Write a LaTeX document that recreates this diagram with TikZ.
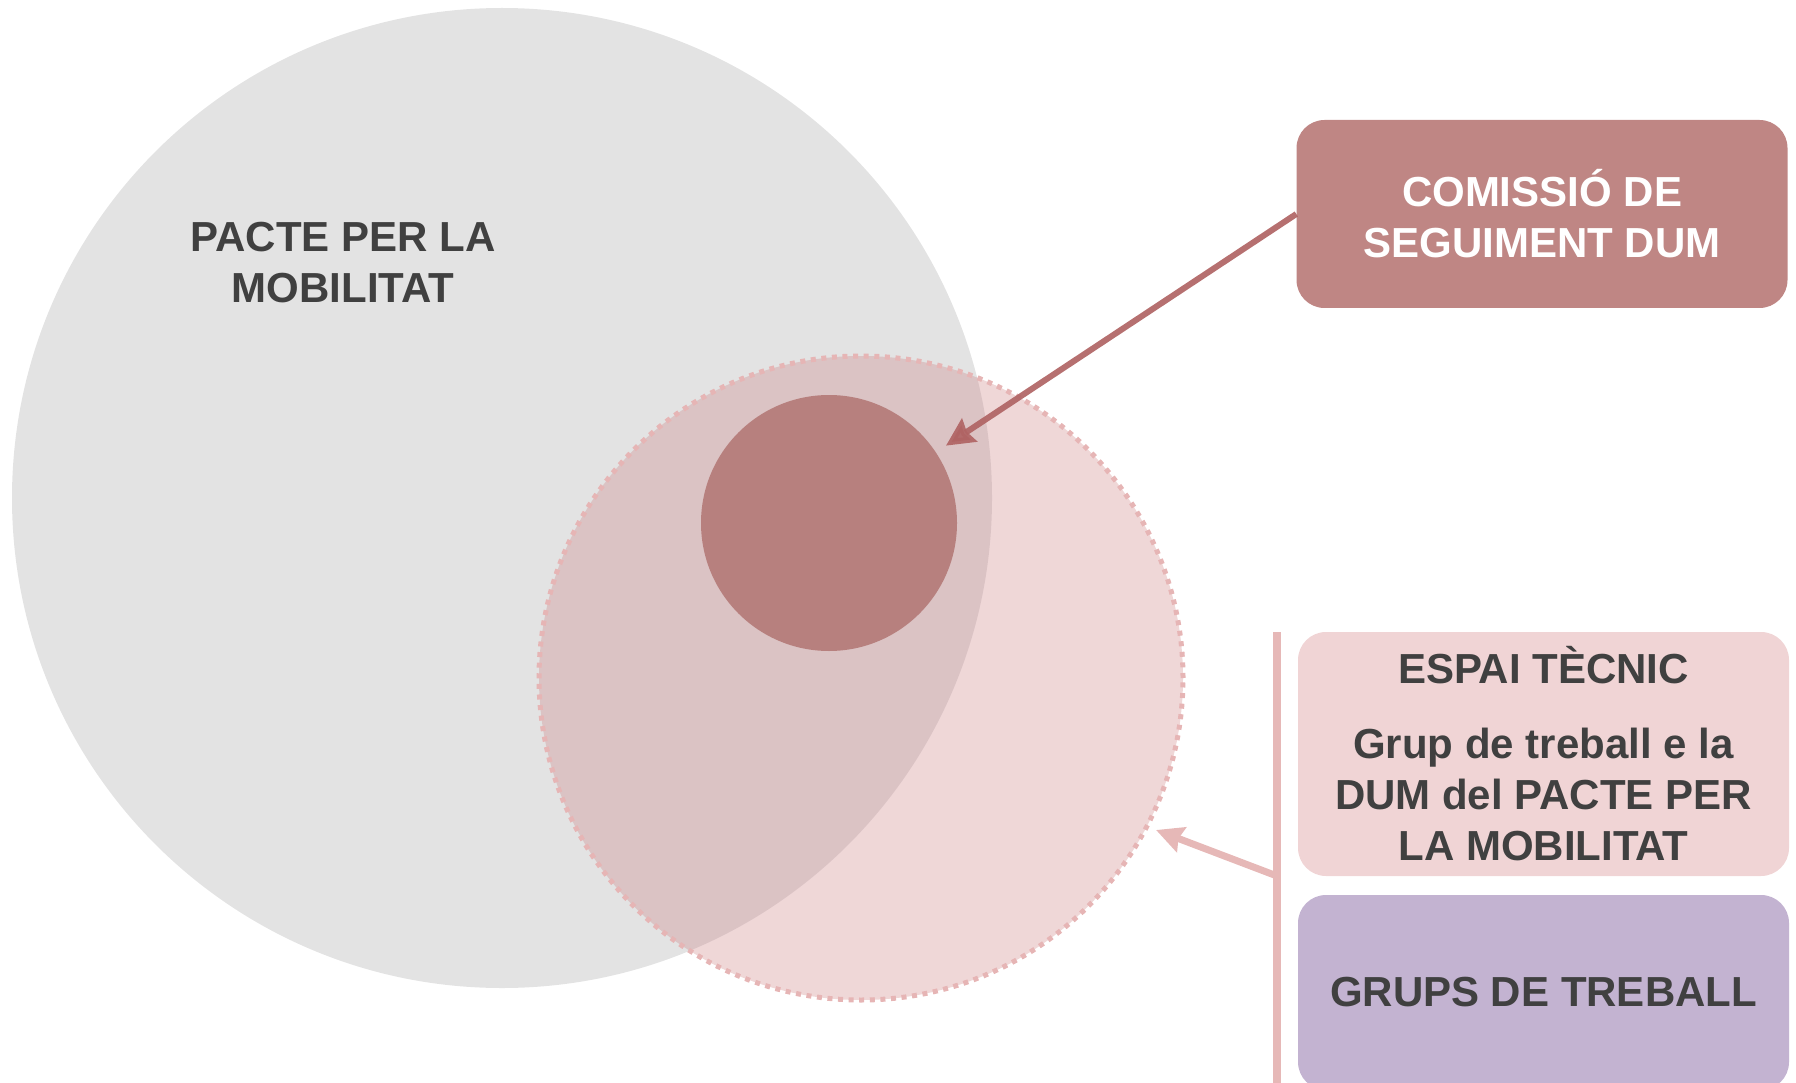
\documentclass[tikz,border=0pt]{standalone}
\usepackage{fontspec}
\setmainfont{Liberation Sans}
\usetikzlibrary{arrows.meta}
\definecolor{greyc}{RGB}{227,227,227}
\definecolor{pinkc}{RGB}{205,130,132}
\definecolor{dotc}{RGB}{230,181,181}
\definecolor{darkc}{RGB}{183,128,126}
\definecolor{arrowdark}{RGB}{176,100,100}
\definecolor{comc}{RGB}{191,134,132}
\definecolor{espc}{RGB}{240,212,213}
\definecolor{grupc}{RGB}{195,179,209}
\definecolor{linec}{RGB}{230,184,183}
\definecolor{txt}{RGB}{64,64,64}
\tikzset{
  bigtext/.style={font=\bfseries\fontsize{42}{51}\selectfont, text=txt, align=center, inner sep=0pt},
  boxstyle/.style={rounded corners=28pt, minimum width=491pt, inner sep=0pt, align=center, font=\bfseries\fontsize{42}{51}\selectfont},
}
\begin{document}
\begin{tikzpicture}[x=1pt,y=-1pt]
\useasboundingbox (0,0) rectangle (1796,1083);
% circles
\node (pacte) [circle, fill=greyc, minimum size=980pt, inner sep=0pt] at (502,498) {};
\node (pactetext) [bigtext] at (343,263) {PACTE PER LA\\MOBILITAT};
\node (espai) [circle, fill=pinkc, fill opacity=0.32, draw=dotc, line width=5pt, dash pattern=on 5pt off 5.6pt, minimum size=644pt, inner sep=0pt] at (861,678) {};
\node (dum) [circle, fill=darkc, minimum size=256pt, inner sep=0pt] at (829,523) {};
% boxes
\node (comision) [boxstyle, fill=comc, text=white, minimum height=188pt] at (1542,214) {COMISSIÓ DE\\SEGUIMENT DUM};
\node (tecnic) [boxstyle, fill=espc, text=txt, minimum height=244pt] at (1543.5,754) {ESPAI TÈCNIC\\[24pt]Grup de treball e la\\DUM del PACTE PER\\LA MOBILITAT};
\node (grups) [boxstyle, fill=grupc, text=txt, minimum height=195pt] at (1543.5,992.5) {GRUPS DE TREBALL};
% connectors
\coordinate (vtop) at (1277,632);
\coordinate (vbot) at (1277,1090);
\coordinate (vmid) at (1277,876);
\coordinate (tip2) at (1156,830);
\draw[linec, line width=8pt] (vtop) -- (vbot);
\draw[linec, line width=7pt, -{Stealth[length=27pt,width=26pt,inset=3pt]}] (vmid) -- (tip2);
\draw[arrowdark, opacity=0.92, line width=6pt, shorten >=12pt, -{Stealth[length=28pt,width=27pt,inset=3pt]}] (comision.west) -- (dum);
\end{tikzpicture}
\end{document}
